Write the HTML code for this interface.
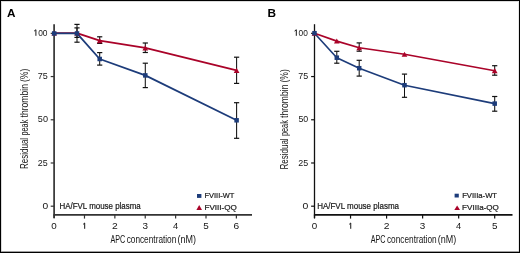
<!DOCTYPE html>
<html><head><meta charset="utf-8"><style>
html,body{margin:0;padding:0;background:#fff;}
body{width:520px;height:253px;overflow:hidden;}
svg{display:block;will-change:transform;}
text{font-family:"Liberation Sans",sans-serif;fill:#161616;}
.tt{}
.lg{stroke:#161616;stroke-width:0.2px;}
.lt{font-weight:bold;fill:#000;}
</style></head><body>
<svg width="520" height="253" viewBox="0 0 520 253">
<rect x="0.5" y="0.5" width="519" height="252" fill="#fff" stroke="#000" stroke-width="1"/>
<rect x="1" y="1" width="517" height="1" fill="#dcdcdc"/>
<rect x="1" y="1" width="1" height="250" fill="#dcdcdc"/>
<rect x="518" y="1" width="1" height="250" fill="#e8e8e8"/>
<rect x="1" y="251" width="518" height="1" fill="#a0a0a0"/>
<line x1="54.1" y1="24.2" x2="54.1" y2="218.0" stroke="#333" stroke-width="1.7"/>
<line x1="53.5" y1="214.85" x2="252" y2="214.85" stroke="#333" stroke-width="1.7"/>
<line x1="50.7" y1="33.35" x2="54.1" y2="33.35" stroke="#333" stroke-width="1.2"/>
<path d="M35.90,35.80V29.75L34.20,31.05" fill="none" stroke="#161616" stroke-width="1.0" stroke-linejoin="round"/>
<text x="38.17" y="35.95" class="tk" font-size="9.3" textLength="9.36" lengthAdjust="spacingAndGlyphs">00</text>
<line x1="50.7" y1="76.56" x2="54.1" y2="76.56" stroke="#333" stroke-width="1.2"/>
<text x="37.74" y="79.16" class="tk" font-size="9.3" textLength="9.99" lengthAdjust="spacingAndGlyphs">75</text>
<line x1="50.7" y1="119.77" x2="54.1" y2="119.77" stroke="#333" stroke-width="1.2"/>
<text x="37.84" y="122.37" class="tk" font-size="9.3" textLength="10.12" lengthAdjust="spacingAndGlyphs">50</text>
<line x1="50.7" y1="162.99" x2="54.1" y2="162.99" stroke="#333" stroke-width="1.2"/>
<text x="37.75" y="165.59" class="tk" font-size="9.3" textLength="9.92" lengthAdjust="spacingAndGlyphs">25</text>
<line x1="50.7" y1="206.20" x2="54.1" y2="206.20" stroke="#333" stroke-width="1.2"/>
<text x="42.40" y="208.80" class="tk" font-size="9.3" textLength="5.70" lengthAdjust="spacingAndGlyphs">0</text>
<line x1="54.10" y1="214.85" x2="54.10" y2="218.6" stroke="#333" stroke-width="1.2"/>
<text x="51.37" y="228.80" class="tk" font-size="8.6" textLength="5.47" lengthAdjust="spacingAndGlyphs">0</text>
<line x1="84.48" y1="214.85" x2="84.48" y2="218.6" stroke="#333" stroke-width="1.2"/>
<path d="M84.68,228.80V223.00L83.18,224.30" fill="none" stroke="#161616" stroke-width="1.0" stroke-linejoin="round"/>
<line x1="114.86" y1="214.85" x2="114.86" y2="218.6" stroke="#333" stroke-width="1.2"/>
<text x="111.99" y="228.80" class="tk" font-size="8.6" textLength="5.74" lengthAdjust="spacingAndGlyphs">2</text>
<line x1="145.24" y1="214.85" x2="145.24" y2="218.6" stroke="#333" stroke-width="1.2"/>
<text x="142.51" y="228.80" class="tk" font-size="8.6" textLength="5.51" lengthAdjust="spacingAndGlyphs">3</text>
<line x1="175.62" y1="214.85" x2="175.62" y2="218.6" stroke="#333" stroke-width="1.2"/>
<text x="173.06" y="228.80" class="tk" font-size="8.6" textLength="5.19" lengthAdjust="spacingAndGlyphs">4</text>
<line x1="206.00" y1="214.85" x2="206.00" y2="218.6" stroke="#333" stroke-width="1.2"/>
<text x="203.25" y="228.80" class="tk" font-size="8.6" textLength="5.51" lengthAdjust="spacingAndGlyphs">5</text>
<line x1="236.38" y1="214.85" x2="236.38" y2="218.6" stroke="#333" stroke-width="1.2"/>
<text x="233.51" y="228.80" class="tk" font-size="8.6" textLength="5.66" lengthAdjust="spacingAndGlyphs">6</text>
<text x="110.49" y="242.80" class="tt" font-size="10.4" textLength="14.79" lengthAdjust="spacingAndGlyphs">APC</text>
<text x="126.65" y="242.80" class="tt" font-size="10.4" textLength="49.69" lengthAdjust="spacingAndGlyphs">concentration</text>
<text x="177.44" y="242.80" class="tt" font-size="10.4" textLength="18.52" lengthAdjust="spacingAndGlyphs">(nM)</text>
<text x="-168.96" y="0" class="tt" font-size="10.4" textLength="31.09" lengthAdjust="spacingAndGlyphs" transform="translate(27.6,0) rotate(-90)">Residual</text>
<text x="-135.57" y="0" class="tt" font-size="10.4" textLength="15.86" lengthAdjust="spacingAndGlyphs" transform="translate(27.6,0) rotate(-90)">peak</text>
<text x="-117.43" y="0" class="tt" font-size="10.4" textLength="33.39" lengthAdjust="spacingAndGlyphs" transform="translate(27.6,0) rotate(-90)">thrombin</text>
<text x="-82.03" y="0" class="tt" font-size="10.4" textLength="13.26" lengthAdjust="spacingAndGlyphs" transform="translate(27.6,0) rotate(-90)">(%)</text>
<text x="7.11" y="16.80" class="lt" font-size="11.4" textLength="8.50" lengthAdjust="spacingAndGlyphs">A</text>
<text x="59.45" y="208.90" class="lg" font-size="8.8" textLength="81.35" lengthAdjust="spacingAndGlyphs">HA/FVL mouse plasma</text>
<rect x="197.0" y="194.0" width="4.40" height="3.90" fill="#1d3c7a"/>
<polygon points="196.4,209.9 202.0,209.9 199.20,205.0" fill="#aa0329"/>
<text x="204.59" y="197.80" class="lg" font-size="7.9" textLength="29.68" lengthAdjust="spacingAndGlyphs">FVIII-WT</text>
<text x="204.54" y="209.70" class="lg" font-size="7.9" textLength="32.35" lengthAdjust="spacingAndGlyphs">FVIII-QQ</text>
<line x1="77.0" y1="27.9" x2="77.0" y2="37.4" stroke="#111" stroke-width="1.05"/><line x1="74.4" y1="27.9" x2="79.6" y2="27.9" stroke="#111" stroke-width="1.2"/><line x1="74.4" y1="37.4" x2="79.6" y2="37.4" stroke="#111" stroke-width="1.2"/>
<line x1="99.7" y1="36.8" x2="99.7" y2="43.4" stroke="#111" stroke-width="1.05"/><line x1="97.10000000000001" y1="36.8" x2="102.3" y2="36.8" stroke="#111" stroke-width="1.2"/><line x1="97.10000000000001" y1="43.4" x2="102.3" y2="43.4" stroke="#111" stroke-width="1.2"/>
<line x1="145.3" y1="43.0" x2="145.3" y2="52.5" stroke="#111" stroke-width="1.05"/><line x1="142.70000000000002" y1="43.0" x2="147.9" y2="43.0" stroke="#111" stroke-width="1.2"/><line x1="142.70000000000002" y1="52.5" x2="147.9" y2="52.5" stroke="#111" stroke-width="1.2"/>
<line x1="236.6" y1="57.2" x2="236.6" y2="83.4" stroke="#111" stroke-width="1.05"/><line x1="234.0" y1="57.2" x2="239.2" y2="57.2" stroke="#111" stroke-width="1.2"/><line x1="234.0" y1="83.4" x2="239.2" y2="83.4" stroke="#111" stroke-width="1.2"/>
<line x1="77.0" y1="24.4" x2="77.0" y2="42.2" stroke="#111" stroke-width="1.05"/><line x1="74.4" y1="24.4" x2="79.6" y2="24.4" stroke="#111" stroke-width="1.2"/><line x1="74.4" y1="42.2" x2="79.6" y2="42.2" stroke="#111" stroke-width="1.2"/>
<line x1="99.7" y1="52.6" x2="99.7" y2="65.1" stroke="#111" stroke-width="1.05"/><line x1="97.10000000000001" y1="52.6" x2="102.3" y2="52.6" stroke="#111" stroke-width="1.2"/><line x1="97.10000000000001" y1="65.1" x2="102.3" y2="65.1" stroke="#111" stroke-width="1.2"/>
<line x1="145.3" y1="63.2" x2="145.3" y2="87.6" stroke="#111" stroke-width="1.05"/><line x1="142.70000000000002" y1="63.2" x2="147.9" y2="63.2" stroke="#111" stroke-width="1.2"/><line x1="142.70000000000002" y1="87.6" x2="147.9" y2="87.6" stroke="#111" stroke-width="1.2"/>
<line x1="236.6" y1="102.7" x2="236.6" y2="138.3" stroke="#111" stroke-width="1.05"/><line x1="234.0" y1="102.7" x2="239.2" y2="102.7" stroke="#111" stroke-width="1.2"/><line x1="234.0" y1="138.3" x2="239.2" y2="138.3" stroke="#111" stroke-width="1.2"/>
<polyline points="54.2,33.1 77.0,33.1 99.7,40.7 145.3,47.9 236.6,70.4" fill="none" stroke="#aa0329" stroke-width="1.8" stroke-linejoin="round"/>
<polyline points="54.2,33.45 77.0,33.45 99.7,59.0 145.3,75.4 236.6,120.3" fill="none" stroke="#1d3c7a" stroke-width="1.8" stroke-linejoin="round"/>
<polygon points="51.35,35.60 57.05,35.60 54.20,30.45" fill="#aa0329"/>
<polygon points="74.15,35.60 79.85,35.60 77.00,30.45" fill="#aa0329"/>
<polygon points="96.85,43.20 102.55,43.20 99.70,38.05" fill="#aa0329"/>
<polygon points="142.45,50.40 148.15,50.40 145.30,45.25" fill="#aa0329"/>
<polygon points="233.75,72.90 239.45,72.90 236.60,67.75" fill="#aa0329"/>
<rect x="51.95" y="31.20" width="4.5" height="4.5" fill="#1d3c7a"/>
<rect x="74.75" y="31.20" width="4.5" height="4.5" fill="#1d3c7a"/>
<rect x="97.45" y="56.75" width="4.5" height="4.5" fill="#1d3c7a"/>
<rect x="143.05" y="73.15" width="4.5" height="4.5" fill="#1d3c7a"/>
<rect x="234.35" y="118.05" width="4.5" height="4.5" fill="#1d3c7a"/>
<line x1="314.5" y1="24.2" x2="314.5" y2="218.0" stroke="#111" stroke-width="1.3"/>
<line x1="313.9" y1="214.85" x2="512.5" y2="214.85" stroke="#111" stroke-width="1.7"/>
<line x1="311.1" y1="33.35" x2="314.5" y2="33.35" stroke="#111" stroke-width="1.2"/>
<path d="M296.30,35.80V29.75L294.60,31.05" fill="none" stroke="#161616" stroke-width="1.0" stroke-linejoin="round"/>
<text x="298.58" y="35.95" class="tk" font-size="9.3" textLength="9.25" lengthAdjust="spacingAndGlyphs">00</text>
<line x1="311.1" y1="76.56" x2="314.5" y2="76.56" stroke="#111" stroke-width="1.2"/>
<text x="298.34" y="79.16" class="tk" font-size="9.3" textLength="9.93" lengthAdjust="spacingAndGlyphs">75</text>
<line x1="311.1" y1="119.77" x2="314.5" y2="119.77" stroke="#111" stroke-width="1.2"/>
<text x="298.45" y="122.37" class="tk" font-size="9.3" textLength="9.80" lengthAdjust="spacingAndGlyphs">50</text>
<line x1="311.1" y1="162.99" x2="314.5" y2="162.99" stroke="#111" stroke-width="1.2"/>
<text x="298.35" y="165.59" class="tk" font-size="9.3" textLength="9.92" lengthAdjust="spacingAndGlyphs">25</text>
<line x1="311.1" y1="206.20" x2="314.5" y2="206.20" stroke="#111" stroke-width="1.2"/>
<text x="302.59" y="208.80" class="tk" font-size="9.3" textLength="5.82" lengthAdjust="spacingAndGlyphs">0</text>
<line x1="314.50" y1="214.85" x2="314.50" y2="218.6" stroke="#111" stroke-width="1.2"/>
<text x="311.77" y="228.80" class="tk" font-size="8.6" textLength="5.47" lengthAdjust="spacingAndGlyphs">0</text>
<line x1="350.54" y1="214.85" x2="350.54" y2="218.6" stroke="#111" stroke-width="1.2"/>
<path d="M350.74,228.80V223.00L349.24,224.30" fill="none" stroke="#161616" stroke-width="1.0" stroke-linejoin="round"/>
<line x1="386.58" y1="214.85" x2="386.58" y2="218.6" stroke="#111" stroke-width="1.2"/>
<text x="383.71" y="228.80" class="tk" font-size="8.6" textLength="5.74" lengthAdjust="spacingAndGlyphs">2</text>
<line x1="422.62" y1="214.85" x2="422.62" y2="218.6" stroke="#111" stroke-width="1.2"/>
<text x="419.89" y="228.80" class="tk" font-size="8.6" textLength="5.51" lengthAdjust="spacingAndGlyphs">3</text>
<line x1="458.66" y1="214.85" x2="458.66" y2="218.6" stroke="#111" stroke-width="1.2"/>
<text x="456.10" y="228.80" class="tk" font-size="8.6" textLength="5.19" lengthAdjust="spacingAndGlyphs">4</text>
<line x1="494.70" y1="214.85" x2="494.70" y2="218.6" stroke="#111" stroke-width="1.2"/>
<text x="491.95" y="228.80" class="tk" font-size="8.6" textLength="5.51" lengthAdjust="spacingAndGlyphs">5</text>
<text x="370.79" y="242.80" class="tt" font-size="10.4" textLength="14.79" lengthAdjust="spacingAndGlyphs">APC</text>
<text x="386.95" y="242.80" class="tt" font-size="10.4" textLength="49.69" lengthAdjust="spacingAndGlyphs">concentration</text>
<text x="437.74" y="242.80" class="tt" font-size="10.4" textLength="18.52" lengthAdjust="spacingAndGlyphs">(nM)</text>
<text x="-169.46" y="0" class="tt" font-size="10.4" textLength="31.09" lengthAdjust="spacingAndGlyphs" transform="translate(287.9,0) rotate(-90)">Residual</text>
<text x="-136.07" y="0" class="tt" font-size="10.4" textLength="15.86" lengthAdjust="spacingAndGlyphs" transform="translate(287.9,0) rotate(-90)">peak</text>
<text x="-117.93" y="0" class="tt" font-size="10.4" textLength="33.39" lengthAdjust="spacingAndGlyphs" transform="translate(287.9,0) rotate(-90)">thrombin</text>
<text x="-82.53" y="0" class="tt" font-size="10.4" textLength="13.26" lengthAdjust="spacingAndGlyphs" transform="translate(287.9,0) rotate(-90)">(%)</text>
<text x="267.61" y="16.80" class="lt" font-size="11.4" textLength="8.53" lengthAdjust="spacingAndGlyphs">B</text>
<text x="317.15" y="208.90" class="lg" font-size="8.8" textLength="81.85" lengthAdjust="spacingAndGlyphs">HA/FVL mouse plasma</text>
<rect x="454.6" y="193.7" width="4.20" height="3.80" fill="#1d3c7a"/>
<polygon points="454.3,209.9 460.0,209.9 457.15,205.4" fill="#aa0329"/>
<text x="462.17" y="197.90" class="lg" font-size="7.9" textLength="34.90" lengthAdjust="spacingAndGlyphs">FVIIIa-WT</text>
<text x="462.14" y="209.80" class="lg" font-size="7.9" textLength="36.75" lengthAdjust="spacingAndGlyphs">FVIIIa-QQ</text>
<line x1="359.2" y1="42.9" x2="359.2" y2="51.2" stroke="#111" stroke-width="1.05"/><line x1="356.59999999999997" y1="42.9" x2="361.8" y2="42.9" stroke="#111" stroke-width="1.2"/><line x1="356.59999999999997" y1="51.2" x2="361.8" y2="51.2" stroke="#111" stroke-width="1.2"/>
<line x1="494.7" y1="65.7" x2="494.7" y2="75.2" stroke="#111" stroke-width="1.05"/><line x1="492.09999999999997" y1="65.7" x2="497.3" y2="65.7" stroke="#111" stroke-width="1.2"/><line x1="492.09999999999997" y1="75.2" x2="497.3" y2="75.2" stroke="#111" stroke-width="1.2"/>
<line x1="336.8" y1="51.3" x2="336.8" y2="63.2" stroke="#111" stroke-width="1.05"/><line x1="334.2" y1="51.3" x2="339.40000000000003" y2="51.3" stroke="#111" stroke-width="1.2"/><line x1="334.2" y1="63.2" x2="339.40000000000003" y2="63.2" stroke="#111" stroke-width="1.2"/>
<line x1="359.2" y1="60.3" x2="359.2" y2="76.1" stroke="#111" stroke-width="1.05"/><line x1="356.59999999999997" y1="60.3" x2="361.8" y2="60.3" stroke="#111" stroke-width="1.2"/><line x1="356.59999999999997" y1="76.1" x2="361.8" y2="76.1" stroke="#111" stroke-width="1.2"/>
<line x1="404.5" y1="74.1" x2="404.5" y2="97.3" stroke="#111" stroke-width="1.05"/><line x1="401.9" y1="74.1" x2="407.1" y2="74.1" stroke="#111" stroke-width="1.2"/><line x1="401.9" y1="97.3" x2="407.1" y2="97.3" stroke="#111" stroke-width="1.2"/>
<line x1="494.7" y1="96.5" x2="494.7" y2="111.2" stroke="#111" stroke-width="1.05"/><line x1="492.09999999999997" y1="96.5" x2="497.3" y2="96.5" stroke="#111" stroke-width="1.2"/><line x1="492.09999999999997" y1="111.2" x2="497.3" y2="111.2" stroke="#111" stroke-width="1.2"/>
<polyline points="314.5,33.2 336.8,41.1 359.2,47.8 404.5,54.3 494.7,70.7" fill="none" stroke="#aa0329" stroke-width="1.65" stroke-linejoin="round"/>
<polyline points="314.5,33.2 336.8,57.7 359.2,68.2 404.5,85.2 494.7,103.6" fill="none" stroke="#1d3c7a" stroke-width="1.65" stroke-linejoin="round"/>
<polygon points="311.65,35.70 317.35,35.70 314.50,30.55" fill="#aa0329"/>
<polygon points="333.95,43.60 339.65,43.60 336.80,38.45" fill="#aa0329"/>
<polygon points="356.35,50.30 362.05,50.30 359.20,45.15" fill="#aa0329"/>
<polygon points="401.65,56.80 407.35,56.80 404.50,51.65" fill="#aa0329"/>
<polygon points="491.85,73.20 497.55,73.20 494.70,68.05" fill="#aa0329"/>
<rect x="312.25" y="30.95" width="4.5" height="4.5" fill="#1d3c7a"/>
<rect x="334.55" y="55.45" width="4.5" height="4.5" fill="#1d3c7a"/>
<rect x="356.95" y="65.95" width="4.5" height="4.5" fill="#1d3c7a"/>
<rect x="402.25" y="82.95" width="4.5" height="4.5" fill="#1d3c7a"/>
<rect x="492.45" y="101.35" width="4.5" height="4.5" fill="#1d3c7a"/>
</svg>
</body></html>
